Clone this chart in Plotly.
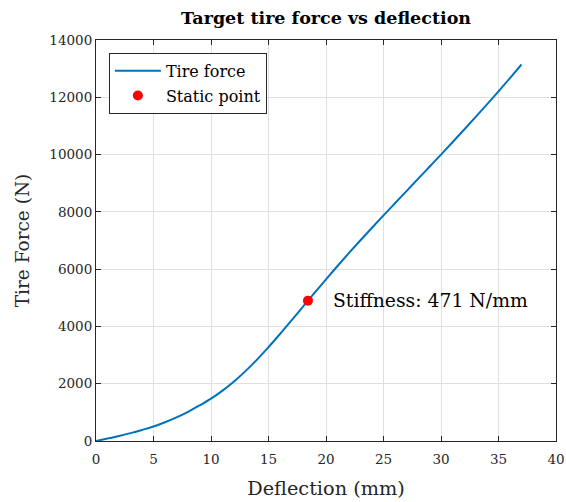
import plotly.graph_objects as go

# Deflection (mm) and tire force (N)
deflection = [0, 1, 2, 3, 4, 5, 6, 7, 8, 9, 10, 11, 12, 13, 14, 15, 16, 17, 18, 19,
              20, 21, 22, 23, 24, 25, 26, 27, 28, 29, 30, 31, 32, 33, 34, 35, 36, 37]
force = [0, 85, 175, 275, 385, 505, 655, 825, 1020, 1240, 1480, 1760, 2080, 2440, 2840,
         3275, 3735, 4210, 4690, 5170, 5640, 6110, 6565, 7010, 7445, 7875, 8300, 8725,
         9150, 9575, 10000, 10430, 10865, 11305, 11750, 12205, 12670, 13145]

static_x = [18.43]
static_f = [4900]
stiffness = 471

x_ticks = [0, 5, 10, 15, 20, 25, 30, 35, 40]
y_ticks = [0, 2000, 4000, 6000, 8000, 10000, 12000, 14000]

FONT = "DejaVu Serif"
TXT = "#262626"

fig = go.Figure()
fig.add_trace(go.Scatter(x=deflection, y=force, mode="lines", name="Tire force",
                         line=dict(color="#0072BD", width=2, shape="spline"),
                         legendgroup="a"))
fig.add_trace(go.Scatter(x=static_x, y=static_f, mode="markers", name="Static point",
                         marker=dict(color="#FF0000", size=10), legendgroup="b"))

fig.add_annotation(x=static_x[0] + 2, y=static_f[0], xref="x", yref="y",
                   text=f"Stiffness: {stiffness} N/mm", showarrow=False,
                   xanchor="left", yanchor="middle",
                   font=dict(family=FONT, size=18.8, color="#000000"))

axis_common = dict(showline=True, linecolor=TXT, linewidth=1, mirror="ticks",
                   ticks="inside", ticklen=5, tickcolor=TXT, showgrid=True,
                   gridcolor="#e0e0e0", gridwidth=1, zeroline=False, automargin=False,
                   tickfont=dict(family=FONT, size=13.5, color=TXT))

fig.update_xaxes(range=[0, 40], tickvals=x_ticks, ticktext=[str(v) for v in x_ticks],
                 ticklabelstandoff=6,
                 title=dict(text="Deflection (mm)", font=dict(family=FONT, size=19.3, color=TXT),
                            standoff=15),
                 **axis_common)
fig.update_yaxes(range=[0, 14000], tickvals=y_ticks, ticktext=[str(v) for v in y_ticks],
                 title=dict(text="Tire Force (N)", font=dict(family=FONT, size=18.5, color=TXT),
                            standoff=14),
                 **axis_common)

fig.update_layout(
    width=566, height=502,
    margin=dict(l=96, r=10, t=40, b=61),
    paper_bgcolor="white", plot_bgcolor="white",
    title=dict(text="<b>Target tire force vs deflection</b>", x=0.5, xref="paper",
               xanchor="center", y=0.964, yanchor="middle",
               font=dict(family=FONT, size=17.5, color="#000000")),
    legend=dict(x=0.028, y=0.968, xanchor="left", yanchor="top",
                bgcolor="white", bordercolor=TXT, borderwidth=1,
                font=dict(family=FONT, size=16, color="#000000"),
                itemwidth=46,
                traceorder="grouped", tracegroupgap=1),
    showlegend=True,
)

fig.write_html("out.html")
